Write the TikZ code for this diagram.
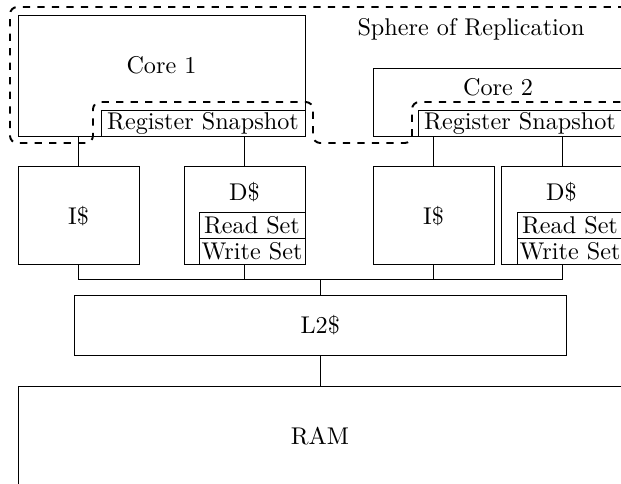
\documentclass[tikz,border=0pt]{standalone}
\begin{document}
\begin{tikzpicture}[x=0.4132pt,y=-0.4132pt,
  box/.style 2 args={draw, line width=0.4pt, inner sep=0pt, outer sep=0pt, anchor=north west,
    minimum width={#1*0.4132pt}, minimum height={#2*0.4132pt}},
  lbl/.style={inner sep=0pt},
  wire/.style={line width=0.4pt},
  sphere/.style={thick, dashed, rounded corners=3pt}]
\useasboundingbox (0,0) rectangle (621,483);
\clip (0,0) rectangle (621,483);
% Sphere of replication
\draw[sphere] (640,7) -- (10,7) -- (10,143) -- (93,143) -- (93,102) -- (313,102) -- (313,143)
  -- (412,143) -- (412,102) -- (640,102);
\node[lbl] (sor) at (471,29) {Sphere of Replication};
% Core 1 group
\node[box={287}{121}] (core1) at (18,15) {};
\node[lbl] (core1t) at (161.5,65) {Core 1};
\node[box={204}{26}] (rs1) at (101,110) {};
\node[lbl] (rs1t) at (203,123) {Register Snapshot};
\node[box={121}{98}] (i1) at (18,166) {};
\node[lbl] (i1t) at (78.5,216) {I\$};
\node[box={121}{98}] (d1) at (184,166) {};
\node[lbl] (d1t) at (244.5,192) {D\$};
\node[box={106}{26}] (r1) at (199,212) {};
\node[lbl] (r1t) at (252,225.5) {Read Set};
\node[box={106}{26}] (w1) at (199,238) {};
\node[lbl] (w1t) at (252,251.5) {Write Set};
% Core 2 group
\node[box={254}{68}] (core2) at (373,68) {};
\node[lbl] (core2t) at (498,87) {Core 2};
\node[box={208}{26}] (rs2) at (418,110) {};
\node[lbl] (rs2t) at (520,123) {Register Snapshot};
\node[box={121}{98}] (i2) at (373,166) {};
\node[lbl] (i2t) at (433.5,216) {I\$};
\node[box={123}{98}] (d2) at (501,166) {};
\node[lbl] (d2t) at (561.5,192) {D\$};
\node[box={110}{26}] (r2) at (517,212) {};
\node[lbl] (r2t) at (570,225.5) {Read Set};
\node[box={110}{26}] (w2) at (517,238) {};
\node[lbl] (w2t) at (570,251.5) {Write Set};
% L2 and RAM
\node[box={491.5}{60}] (l2) at (74.5,295) {};
\node[lbl] (l2t) at (320.25,325) {L2\$};
\node[box={700}{200}] (ram) at (18,386) {};
\node[lbl] (ramt) at (320,436) {RAM};
% connectors
\coordinate (bus) at (320.25,279);
\draw[wire] (i1.north |- core1.south) -- (i1.north);
\draw[wire] (d1.north |- rs1.south) -- (d1.north);
\draw[wire] (i2.north |- core2.south) -- (i2.north);
\draw[wire] (d2.north |- rs2.south) -- (d2.north);
\draw[wire] (i1.south) |- (bus) -| (d2.south);
\draw[wire] (d1.south) -- (d1.south |- bus);
\draw[wire] (i2.south) -- (i2.south |- bus);
\draw[wire] (bus) -- (l2.north);
\draw[wire] (l2.south) -- (l2.south |- ram.north);
\end{tikzpicture}
\end{document}
